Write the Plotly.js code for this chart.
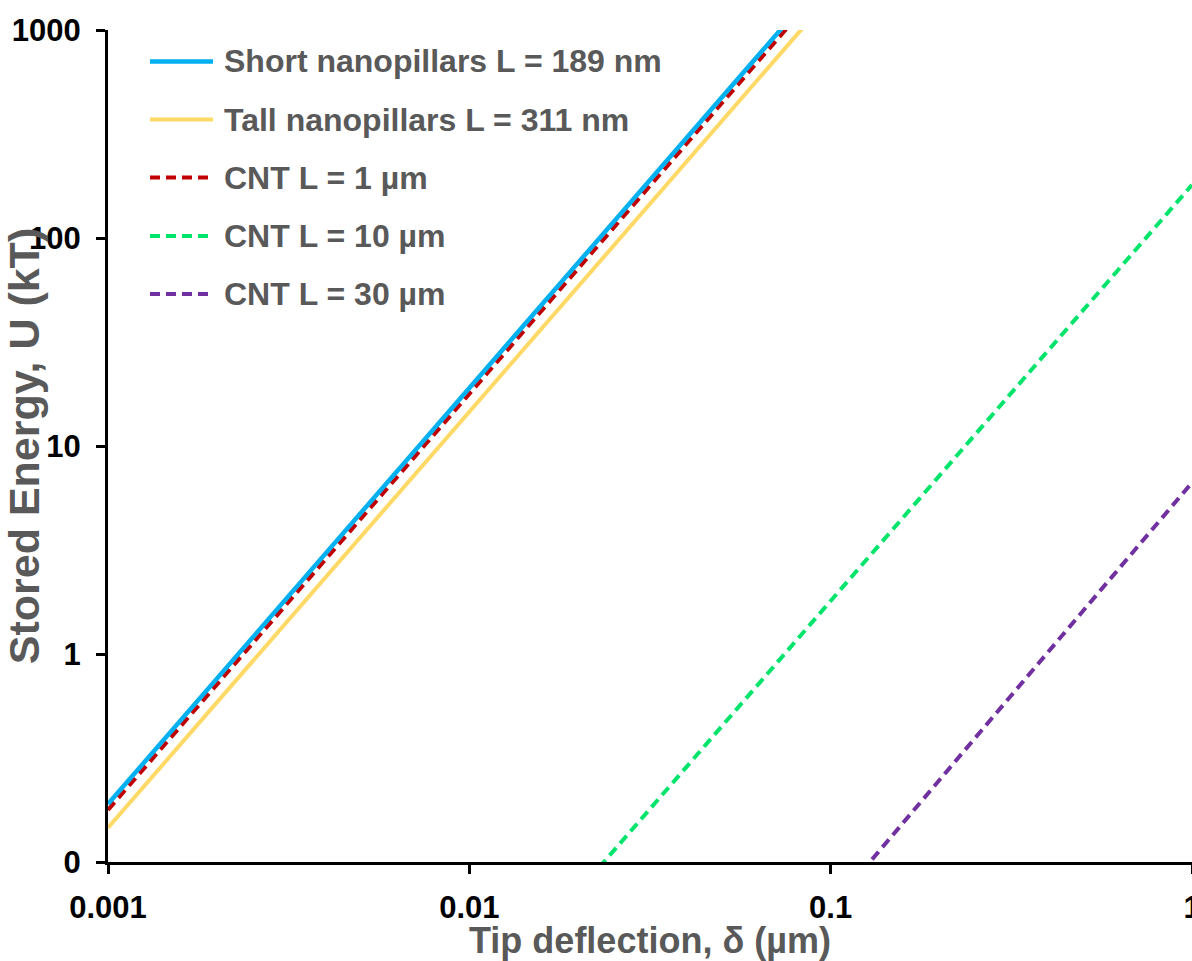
<!DOCTYPE html>
<html>
<head>
<meta charset="utf-8">
<script src="https://cdn.plot.ly/plotly-3.0.1.min.js"></script>
<style>html,body{margin:0;padding:0;background:#fff;}#chart{width:1192px;height:961px;}</style>
</head>
<body>
<div id="chart"></div>
<script>
// ---- data ----
const seriesNames = [
  "Short nanopillars L = 189 nm",
  "Tall nanopillars L = 311 nm",
  "CNT L = 1 µm",
  "CNT L = 10 µm",
  "CNT L = 30 µm"
];
const deflectionPillars = [0.001, 0.002, 0.005, 0.01, 0.02, 0.05, 0.1];
const energyShort = [0.19, 0.76, 4.75, 19, 76, 475, 1900];
const energyTall  = [0.146, 0.584, 3.65, 14.6, 58.4, 365, 1460];
const energyCNT1  = [0.178, 0.712, 4.45, 17.8, 71.2, 445, 1780];
const deflectionCNT10 = [0.02, 0.05, 0.1, 0.2, 0.5, 1];
const energyCNT10 = [0.072, 0.45, 1.8, 7.2, 45, 180];
const deflectionCNT30 = [0.1, 0.2, 0.5, 1];
const energyCNT30 = [0.06, 0.247, 1.61, 6.67];
const xTickVals = [0.001, 0.01, 0.1, 1];
const xTickText = ["0.001", "0.01", "0.1", "1"];
const yTickVals = [0.1, 1, 10, 100, 1000];
const yTickText = ["0", "1", "10", "100", "1000"];
const xTitle = "Tip deflection, δ (µm)";
const yTitle = "Stored Energy, U (kT)";

// ---- styles ----
const styles = [
  {color: "#00B0F0", width: 4.5, dash: "solid"},
  {color: "#FFD966", width: 4, dash: "solid"},
  {color: "#C00000", width: 4, dash: "10px,6px"},
  {color: "#00E46C", width: 4, dash: "10px,6px"},
  {color: "#7030A0", width: 4, dash: "10px,6px"}
];
const xs = [deflectionPillars, deflectionPillars, deflectionPillars, deflectionCNT10, deflectionCNT30];
const ys = [energyShort, energyTall, energyCNT1, energyCNT10, energyCNT30];

const order = [4, 3, 1, 2, 0];
const traces = order.map(i => ({
  type: "scatter", mode: "lines", name: seriesNames[i],
  x: xs[i], y: ys[i], showlegend: false,
  line: {color: styles[i].color, width: styles[i].width, dash: styles[i].dash}
}));

// custom legend (paper coords)
const plotL = 108, plotW = 1084, plotT = 30, plotH = 832;
const px2x = p => (p - plotL) / plotW;
const py2y = p => (plotT + plotH - p) / plotH;
const legendRowsPx = [61.5, 119.5, 177.5, 236, 294];
const shapes = [], annotations = [];
seriesNames.forEach((n, i) => {
  shapes.push({type: "line", xref: "paper", yref: "paper",
    x0: px2x(150), x1: px2x(213), y0: py2y(legendRowsPx[i]), y1: py2y(legendRowsPx[i]),
    line: {color: styles[i].color, width: styles[i].width, dash: styles[i].dash}});
  annotations.push({xref: "paper", yref: "paper", x: px2x(222), y: py2y(legendRowsPx[i]),
    xanchor: "left", yanchor: "middle", showarrow: false, text: n,
    font: {family: "Liberation Sans, Arial, sans-serif", size: 32, color: "#595959", weight: "bold"}});
});

const layout = {
  width: 1192, height: 961,
  margin: {l: plotL, r: 0, t: plotT, b: 961 - plotT - plotH, pad: 0},
  paper_bgcolor: "#fff", plot_bgcolor: "#fff",
  showlegend: false,
  font: {family: "Liberation Sans, Arial, sans-serif"},
  xaxis: {
    type: "log", range: [-3, 0], automargin: false,
    tickmode: "array", tickvals: xTickVals, ticktext: xTickText,
    ticks: "outside", ticklen: 9, tickwidth: 3, tickcolor: "#000",
    showline: true, linecolor: "#000", linewidth: 3, showgrid: false, zeroline: false,
    tickfont: {size: 31, color: "#000", weight: "bold"}, ticklabelstandoff: 7,
    ticklabeloverflow: "allow",
    title: {text: xTitle, font: {size: 36, color: "#595959", weight: "bold"}, standoff: 9}
  },
  yaxis: {
    type: "log", range: [-1, 3], automargin: false,
    tickmode: "array", tickvals: yTickVals, ticktext: yTickText,
    ticks: "outside", ticklen: 9, tickwidth: 3, tickcolor: "#000",
    showline: true, linecolor: "#000", linewidth: 3, showgrid: false, zeroline: false,
    tickfont: {size: 31, color: "#000", weight: "bold"}, ticklabelstandoff: 9,
    ticklabeloverflow: "allow",
    title: {text: yTitle, font: {size: 43, color: "#595959", weight: "bold"}, standoff: 0}
  },
  shapes: shapes,
  annotations: annotations
};

Plotly.newPlot("chart", traces, layout, {staticPlot: true, displayModeBar: false});
</script>
</body>
</html>
